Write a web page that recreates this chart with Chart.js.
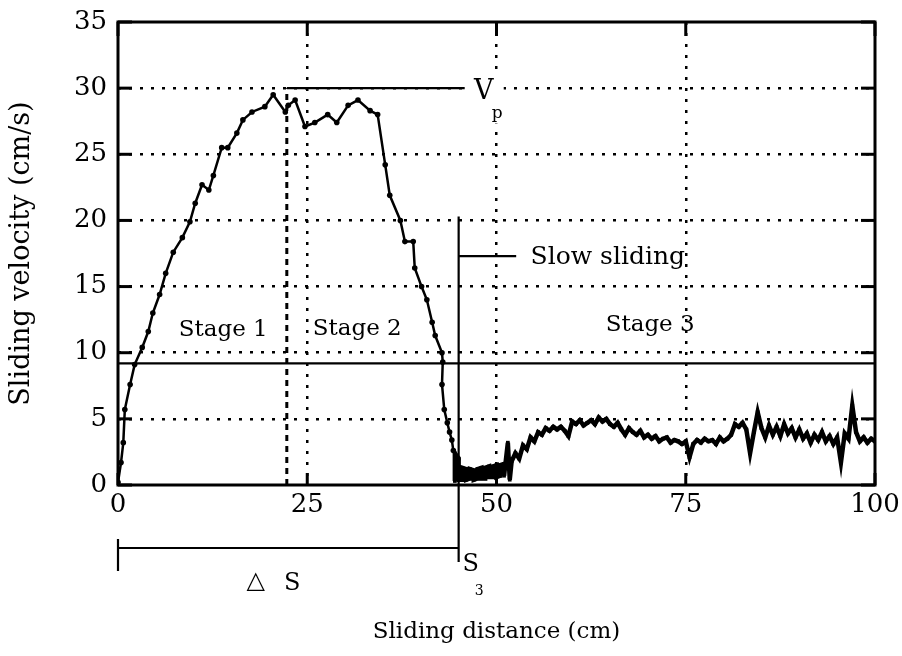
<!DOCTYPE html>
<html>
<head>
<meta charset="utf-8">
<script src="https://cdn.jsdelivr.net/npm/chart.js@4.4.0/dist/chart.umd.min.js"></script>
<style>
  html, body { margin: 0; padding: 0; background: #fff; }
  #grafico { display: block; }
</style>
</head>
<body>
<canvas id="grafico" width="902" height="656"></canvas>
<script>
// Stage 1 and 2 (points with markers)
const distanciaEtapas12 = [0, 0.4, 0.7, 0.9, 1.6, 2.2, 3.2, 4.0, 4.6, 5.5, 6.3, 7.3, 8.5, 9.5, 10.2, 11.1, 12.0, 12.6, 13.7, 14.5,
  15.7, 16.5, 17.7, 19.4, 20.5, 22.1, 22.5, 23.4, 24.7, 26.0, 27.7, 28.9, 30.4, 31.7, 33.3, 34.3, 35.3, 35.9, 37.3, 37.9,
  39.0, 39.2, 40.1, 40.8, 41.5, 41.9, 42.8, 42.9, 42.8, 43.1, 43.5, 43.8, 44.1, 44.3];
const velocidadeEtapas12 = [0.2, 1.7, 3.2, 5.7, 7.6, 9.1, 10.4, 11.6, 13.0, 14.4, 16.0, 17.6, 18.7, 19.9, 21.3, 22.7, 22.3, 23.4, 25.5, 25.5,
  26.6, 27.6, 28.2, 28.6, 29.5, 28.2, 28.7, 29.1, 27.1, 27.4, 28.0, 27.4, 28.7, 29.1, 28.3, 28.0, 24.2, 21.9, 20.0, 18.4,
  18.4, 16.4, 15.0, 14.0, 12.3, 11.3, 10.0, 9.3, 7.6, 5.7, 4.7, 4.0, 3.4, 2.6];

// Stage 3 (slow sliding, noisy record; first part is a dense low band)
const distanciaEtapa3 = [44.5, 44.5, 45.0, 45.0, 45.5, 45.5, 46.0, 46.0, 46.5, 46.5, 47.0, 47.0, 47.5, 47.5,
  48.0, 48.0, 48.5, 48.5, 49.0, 49.0, 49.5, 49.5, 50.0, 50.0, 50.5, 50.5, 51.0, 51.0,
  51.5, 51.75, 52.0,
  52.5, 53.0, 53.5, 54.0, 54.5, 55.0, 55.5, 56.0, 56.5, 57.0, 57.5, 58.0, 58.5, 59.0, 59.5, 60.0,
  60.5, 61.0, 61.5, 62.0, 62.5, 63.0, 63.5, 64.0, 64.5, 65.0, 65.5, 66.0, 66.5, 67.0, 67.5, 68.0,
  68.5, 69.0, 69.5, 70.0, 70.5, 71.0, 71.5, 72.0, 72.5, 73.0, 73.5, 74.0, 74.5, 75.0, 75.5, 76.0,
  76.5, 77.0, 77.5, 78.0, 78.5, 79.0, 79.5, 80.0, 80.5, 81.0, 81.5, 82.0, 82.5, 83.0, 83.5, 84.0,
  84.5, 85.0, 85.5, 86.0, 86.5, 87.0, 87.5, 88.0, 88.5, 89.0, 89.5, 90.0, 90.5, 91.0, 91.5, 92.0,
  92.5, 93.0, 93.5, 94.0, 94.5, 95.0, 95.5, 96.0, 96.5, 97.0, 97.5, 98.0, 98.5, 99.0, 99.5, 100.0];
const velocidadeEtapa3 = [0.3, 2.4, 2.0, 0.4, 0.4, 1.3, 1.2, 0.4, 0.5, 1.2, 1.1, 0.4, 0.5, 1.2,
  1.3, 0.5, 0.5, 1.3, 1.4, 0.6, 0.6, 1.4, 1.5, 0.6, 0.7, 1.5, 1.6, 0.7,
  3.2, 0.4, 1.8,
  2.4, 2.0, 3.0, 2.7, 3.6, 3.3, 4.0, 3.8, 4.3, 4.1, 4.4, 4.2, 4.4, 4.1, 3.7, 4.8,
  4.6, 4.9, 4.5, 4.7, 4.9, 4.6, 5.1, 4.8, 5.0, 4.6, 4.4, 4.7, 4.2, 3.8, 4.3, 4.0,
  3.8, 4.1, 3.6, 3.8, 3.5, 3.7, 3.3, 3.5, 3.6, 3.2, 3.4, 3.3, 3.1, 3.3, 2.1, 3.1,
  3.4, 3.2, 3.5, 3.3, 3.4, 3.1, 3.6, 3.3, 3.5, 3.8, 4.6, 4.4, 4.7, 4.2, 2.4, 4.0,
  5.5, 4.3, 3.6, 4.5, 3.8, 4.4, 3.7, 4.6, 3.9, 4.3, 3.6, 4.2, 3.5, 3.9, 3.2, 3.8,
  3.4, 4.0, 3.3, 3.7, 3.1, 3.6, 1.7, 3.9, 3.5, 6.0, 4.0, 3.3, 3.6, 3.2, 3.5, 3.3];

const ticksDistancia = [0, 25, 50, 75, 100];
const ticksVelocidade = [0, 5, 10, 15, 20, 25, 30, 35];

const FONTE = "'DejaVu Serif', 'Liberation Serif', serif";

function pontos(xs, ys) {
  return xs.map((x, i) => ({ x: x, y: ys[i] }));
}

const anotacoes = {
  id: "anotacoes",
  afterDraw(chart) {
    const { ctx, chartArea: area, scales } = chart;
    const px = v => scales.x.getPixelForValue(v);
    const py = v => scales.y.getPixelForValue(v);
    const linha = (x1, y1, x2, y2) => {
      ctx.beginPath();
      ctx.moveTo(x1, y1);
      ctx.lineTo(x2, y2);
      ctx.stroke();
    };
    const texto = (t, x, y, tam, alinh) => {
      ctx.font = tam + "px " + FONTE;
      ctx.textAlign = alinh || "center";
      ctx.textBaseline = "middle";
      ctx.fillText(t, x, y);
    };

    ctx.save();
    ctx.strokeStyle = "#000";
    ctx.fillStyle = "#000";

    // frame and inner ticks
    ctx.lineWidth = 3;
    ctx.strokeRect(area.left, area.top, area.right - area.left, area.bottom - area.top);
    ticksVelocidade.forEach(v => {
      linha(area.left, py(v), area.left + 14, py(v));
      linha(area.right - 14, py(v), area.right, py(v));
    });
    ticksDistancia.forEach(d => {
      linha(px(d), area.bottom, px(d), area.bottom - 12);
      linha(px(d), area.top, px(d), area.top + 14);
    });

    // stage 1 / stage 2 boundary
    ctx.lineWidth = 3;
    ctx.setLineDash([6, 5]);
    linha(px(22.3), py(0), px(22.3), py(30));
    ctx.setLineDash([]);

    // Vp level, threshold line, S3 marker, slow sliding pointer
    ctx.lineWidth = 2.2;
    linha(px(22.3), py(30), px(45.8), py(30));
    linha(px(0), py(9.2), px(100), py(9.2));
    linha(px(45), py(20.3), px(45), area.bottom + 77);
    linha(px(45), py(17.3), px(52.6), py(17.3));

    // delta S dimension
    linha(px(0), area.bottom + 63, px(45), area.bottom + 63);
    linha(px(0), area.bottom + 54, px(0), area.bottom + 86);

    // labels
    ctx.fillStyle = "#fff";
    ctx.fillRect(px(46.2), py(31.1), 36, 50);
    ctx.fillStyle = "#000";
    texto("V", px(48.3), py(29.7), 27);
    texto("p", px(50.1), py(28.1), 17);
    texto("Slow sliding", px(54.5), py(17.2), 25, "left");
    texto("Stage 1", px(13.9), py(11.7), 23);
    texto("Stage 2", px(31.6), py(11.8), 23);
    texto("Stage 3", px(70.3), py(12.1), 23);
    texto("\u25B3", px(18.2), area.bottom + 97, 24);
    texto("S", px(23.0), area.bottom + 99, 24);
    texto("S", px(46.6), area.bottom + 80, 24);
    texto("3", px(47.7), area.bottom + 106, 14);
    ctx.restore();
  }
};

const gradeX = ctx => (ctx.tick && (ctx.tick.value === 0 || ctx.tick.value === 100)) ? "rgba(0,0,0,0)" : "#000";
const gradeY = ctx => (ctx.tick && (ctx.tick.value === 0 || ctx.tick.value === 35)) ? "rgba(0,0,0,0)" : "#000";

new Chart(document.getElementById("grafico").getContext("2d"), {
  type: "line",
  data: {
    datasets: [
      {
        label: "Stage 1-2",
        data: pontos(distanciaEtapas12, velocidadeEtapas12),
        borderColor: "#000",
        backgroundColor: "#000",
        borderWidth: 2.5,
        pointRadius: 2.8,
        pointBorderWidth: 0,
        tension: 0
      },
      {
        label: "Stage 3",
        data: pontos(distanciaEtapa3, velocidadeEtapa3),
        borderColor: "#000",
        backgroundColor: "#000",
        borderWidth: 4.5,
        pointStyle: "rect",
        pointRadius: 2.6,
        pointBorderWidth: 0,
        tension: 0
      }
    ]
  },
  options: {
    responsive: false,
    animation: false,
    layout: { padding: { top: 22, right: 27, left: 0, bottom: 0 } },
    plugins: {
      legend: { display: false },
      tooltip: { enabled: false }
    },
    scales: {
      x: {
        type: "linear",
        min: 0,
        max: 100,
        afterFit: s => { s.height = 171; s.paddingLeft = 0; s.paddingRight = 0; },
        afterBuildTicks: s => { s.ticks = ticksDistancia.map(v => ({ value: v })); },
        ticks: { color: "#000", padding: 5, font: { family: FONTE, size: 26 } },
        grid: { color: gradeX, lineWidth: 2.5, drawTicks: false },
        border: { display: false, dash: [3, 8] },
        title: {
          display: true,
          text: "Sliding distance (cm)",
          color: "#000",
          font: { family: FONTE, size: 23 },
          padding: { top: 0, bottom: 10 }
        }
      },
      y: {
        min: 0,
        max: 35,
        afterFit: s => { s.width = 118; s.paddingTop = 0; s.paddingBottom = 0; },
        afterBuildTicks: s => { s.ticks = ticksVelocidade.map(v => ({ value: v })); },
        ticks: { color: "#000", padding: 11, font: { family: FONTE, size: 26 } },
        grid: { color: gradeY, lineWidth: 2.5, drawTicks: false },
        border: { display: false, dash: [3, 8] },
        title: {
          display: true,
          text: "Sliding velocity (cm/s)",
          color: "#000",
          font: { family: FONTE, size: 27 },
          padding: { top: 6, bottom: 0 }
        }
      }
    }
  },
  plugins: [anotacoes]
});
</script>
</body>
</html>
